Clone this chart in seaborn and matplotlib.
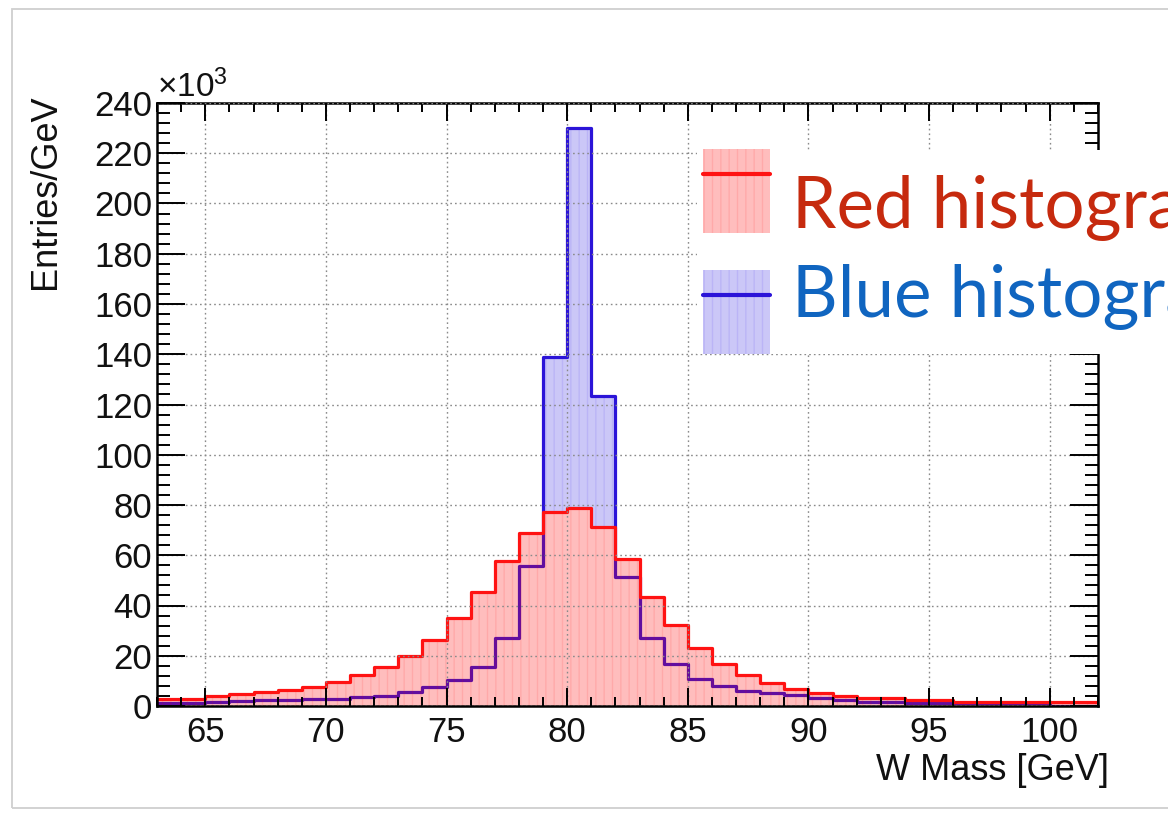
import matplotlib
matplotlib.use("Agg")
import numpy as np
import pandas as pd
import seaborn as sns
import matplotlib.pyplot as plt
from matplotlib.patches import Rectangle, Patch
from matplotlib.lines import Line2D
from matplotlib.legend_handler import HandlerTuple
from matplotlib.ticker import MultipleLocator

# ---------------- data (entries per GeV, in units of 10^3) ----------------
bin_edges = list(range(63, 103))          # 1 GeV bins, 63 .. 102 GeV
red_counts_k = [2.6, 2.8, 4.0, 4.9, 5.7, 6.5, 7.6, 9.7, 12.3, 15.6,
                19.9, 26.3, 35.0, 45.5, 57.9, 69.0, 77.4, 79.0, 71.4, 58.4,
                43.5, 32.3, 23.0, 16.8, 12.3, 9.0, 6.6, 5.0, 4.0, 3.1,
                3.1, 2.4, 2.4, 1.7, 1.7, 1.7, 1.7, 1.5, 1.5]
blue_counts_k = [1.0, 1.1, 1.5, 2.0, 2.2, 2.4, 2.8, 2.8, 3.7, 4.1,
                 5.7, 7.4, 10.4, 15.7, 27.0, 55.8, 139.0, 230.0, 123.2, 51.5,
                 27.0, 16.6, 10.8, 7.9, 6.1, 5.0, 4.4, 3.1, 2.4, 1.7,
                 1.7, 1.3, 1.3, 1.0, 1.0, 1.0, 1.0, 0.0, 0.0]
x_ticks = [65, 70, 75, 80, 85, 90, 95, 100]
y_ticks = [0, 20, 40, 60, 80, 100, 120, 140, 160, 180, 200, 220, 240]
legend_labels = ["Red histogram", "Blue histogram"]
x_label = "W Mass [GeV]"
y_label = "Entries/GeV"

# ---------------- style ----------------
sns.set_theme(style="ticks")
plt.rcParams["font.family"] = ["Liberation Sans", "DejaVu Sans"]
plt.rcParams["mathtext.fontset"] = "custom"
plt.rcParams["mathtext.rm"] = "Liberation Sans"
plt.rcParams["hatch.linewidth"] = 1.0

W, H = 1168, 815
fig = plt.figure(figsize=(W / 100, H / 100), dpi=100)
fig.patch.set_facecolor("white")
ax_l, ax_r, ax_t, ax_b = 157, 1098, 103, 706
ax = fig.add_axes([ax_l / W, 1 - ax_b / H, (ax_r - ax_l) / W, (ax_b - ax_t) / H])
ax.set_facecolor("white")

centers = [e + 0.5 for e in bin_edges[:-1]]
df = pd.DataFrame({"mass": centers, "red": red_counts_k, "blue": blue_counts_k})
common = dict(data=df, x="mass", bins=bin_edges, element="step", ax=ax, legend=False)

RED_FILL = (1.0, 0.0, 0.0, 0.26)
BLUE_FILL = "#CBC7F7"
RED_LINE = "#FF1212"
BLUE_LINE = "#2B14D8"

# blue filled area
sns.histplot(weights="blue", fill=True, facecolor=BLUE_FILL, edgecolor=(0.45, 0.38, 0.95, 0.18),
             linewidth=0, hatch="||", zorder=1.0, **common)
# white underlay so the red area shows pink over the blue area
sns.histplot(weights="red", fill=True, facecolor="white", edgecolor="none",
             linewidth=0, zorder=1.1, **common)
# blue outline
sns.histplot(weights="blue", fill=False, color=BLUE_LINE, alpha=1,
             linewidth=2.3, zorder=1.2, **common)
# red translucent area
sns.histplot(weights="red", fill=True, facecolor=RED_FILL, edgecolor=(1.0, 0.0, 0.0, 0.10),
             linewidth=0, hatch="||", zorder=1.3, **common)
# red outline
sns.histplot(weights="red", fill=False, color=RED_LINE, alpha=1,
             linewidth=2.3, zorder=1.4, **common)

# ---------------- axes ----------------
ax.set_xlim(63, 102)
ax.set_ylim(0, 240)
ax.set_xticks(x_ticks)
ax.set_yticks(y_ticks)
ax.set_xticklabels([str(t) for t in x_ticks])
ax.set_yticklabels([str(t) for t in y_ticks])
ax.xaxis.set_minor_locator(MultipleLocator(1))
ax.yaxis.set_minor_locator(MultipleLocator(4))
ax.set_axisbelow(False)
ax.grid(True, which="major", linestyle=(0, (1.2, 2.2)), color="#8a8a8a", linewidth=1.0)

ax.tick_params(which="both", direction="in", top=True, right=True, width=1.4,
               color="black", labelcolor="#111111")
ax.tick_params(axis="y", which="major", length=20, labelsize=25, pad=3.5)
ax.tick_params(axis="y", which="minor", length=9.5)
ax.tick_params(axis="x", which="major", length=13, labelsize=25, pad=7)
ax.tick_params(axis="x", which="minor", length=6.5)
for s in ax.spines.values():
    s.set_linewidth(1.8)
    s.set_color("black")
    s.set_visible(True)

ax.set_xlabel(x_label, fontsize=26, loc="right", color="#111111")
ax.xaxis.set_label_coords(1.012, -0.078)
ax.set_ylabel(y_label, fontsize=26, loc="top", color="#111111")
ax.yaxis.set_label_coords(-0.100, 1.014)

ax.text(0.0, 1 + 6 / (ax_b - ax_t), r"$\mathregular{\times10^{3}}$", transform=ax.transAxes,
        ha="left", va="baseline", fontsize=24, color="#111111")

# ---------------- legend (white box, handles, big labels) ----------------
fig.add_artist(Rectangle((697 / W, 1 - 354 / H), (W - 697) / W + 0.02, (354 - 150) / H,
                         transform=fig.transFigure, facecolor="white",
                         edgecolor="none", zorder=3))
handles = [
    (Patch(facecolor="#FFBDBD", edgecolor=(1.0, 0.0, 0.0, 0.10), linewidth=0, hatch="||"),
     Line2D([], [], color=RED_LINE, linewidth=3)),
    (Patch(facecolor=BLUE_FILL, edgecolor=(0.45, 0.38, 0.95, 0.18), linewidth=0, hatch="||"),
     Line2D([], [], color=BLUE_LINE, linewidth=3)),
]
fs = 20
fs_px = fs * 100 / 72
hh = (84 / fs_px - 0.245) / 0.65        # legend box height = fs*(0.65*hh + 0.245)
leg = fig.legend(handles=handles, labels=["", ""], loc="upper left",
                 bbox_to_anchor=(703 / W, 1 - 149 / H), bbox_transform=fig.transFigure,
                 handler_map={tuple: HandlerTuple(ndivide=1, pad=0)},
                 fontsize=fs, handlelength=67 / fs_px, handleheight=hh,
                 labelspacing=37 / fs_px, borderpad=0, borderaxespad=0,
                 handletextpad=0, frameon=False)
leg.set_zorder(5)

label_colors = ["#C62A0E", "#1065C0"]
label_baselines = [228, 317]
for lab, col, yb in zip(legend_labels, label_colors, label_baselines):
    fig.text(792 / W, 1 - yb / H, lab, color=col, fontsize=51,
             family=["Lato", "DejaVu Sans"], ha="left", va="baseline", zorder=6)

# thin screenshot frame
fig.add_artist(Rectangle((12 / W, 1 - 808 / H), (W + 20) / W, (808 - 9) / H,
                         transform=fig.transFigure, facecolor="none",
                         edgecolor="#CFCFCF", linewidth=1.3, zorder=7))

fig.savefig("out.png", dpi=100)
